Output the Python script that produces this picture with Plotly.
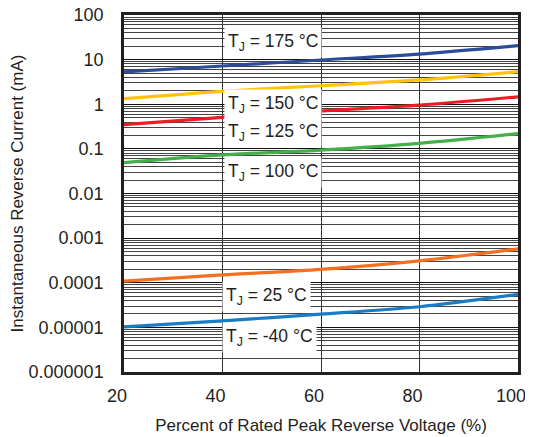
import math
import plotly.graph_objects as go

x_pct = [20, 40, 60, 80, 100]

i_175 = [5.3, 7.2, 9.8, 13.3, 20.5]
i_150 = [1.33, 1.95, 2.6, 3.5, 5.4]
i_125 = [0.35, 0.51, 0.71, 0.96, 1.47]
i_100 = [0.049, 0.073, 0.094, 0.133, 0.22]
i_25 = [1.09e-4, 1.5e-4, 2.0e-4, 3.1e-4, 5.75e-4]
i_m40 = [1.03e-5, 1.4e-5, 1.98e-5, 2.9e-5, 5.5e-5]

series = [
    ("175", i_175, "#2B4C9B"),
    ("150", i_150, "#FFC20E"),
    ("125", i_125, "#ED1C24"),
    ("100", i_100, "#44B04A"),
    ("25", i_25, "#F37021"),
    ("-40", i_m40, "#1A7CC4"),
]

label_texts = ["175", "150", "125", "100", "25", "-40"]
label_x = [50.3, 50.3, 50.3, 50.3, 49.0, 49.6]
label_y = [23.6, 0.99, 0.235, 0.030, 5.0e-5, 5.9e-6]

y_tickvals = [1e-6, 1e-5, 1e-4, 1e-3, 1e-2, 0.1, 1, 10, 100]
y_ticktext = ["0.000001", "0.00001", "0.0001", "0.001", "0.01", "0.1", "1", "10", "100"]
x_tickvals = [20, 40, 60, 80, 100]

txt = "#231f20"
font_family = "Liberation Sans, Arial, sans-serif"
fs_tick = 18
fs_title = 17
fs_label = 17.5

# the page body has an 8px margin: shrink the figure so it ends at the window edge
body_off = 8

fig = go.Figure()
for name, vals, color in series:
    fig.add_trace(go.Scatter(
        x=x_pct, y=vals, mode="lines", name=name,
        line=dict(color=color, width=3.2, shape="spline", smoothing=0.8),
        showlegend=False,
    ))

for t, lx, ly in zip(label_texts, label_x, label_y):
    fig.add_annotation(
        x=lx, y=math.log10(ly), yref="y", xref="x",
        text="T<sub>J</sub> = " + t + " °C",
        showarrow=False, bgcolor="white",
        font=dict(size=fs_label, color=txt, family=font_family),
        borderpad=3,
    )

fig.update_layout(
    width=533 - body_off, height=437 - body_off,
    margin=dict(l=124 - body_off, r=15, t=15 - body_off, b=65, autoexpand=False),
    paper_bgcolor="white", plot_bgcolor="white",
    font=dict(family=font_family, size=fs_tick, color=txt),
    xaxis=dict(
        range=[20, 100], tickvals=x_tickvals,
        showgrid=True, gridcolor="#333", gridwidth=1,
        showline=True, linecolor="#231f20", linewidth=2.5, mirror=True,
        ticks="", ticklabelstandoff=6, ticklabelshift=-7,
        ticklabeloverflow="allow",
        automargin=False,
        title=dict(text="Percent of Rated Peak Reverse Voltage (%)", standoff=14,
                   font=dict(size=fs_title, color=txt)),
        zeroline=False,
    ),
    yaxis=dict(
        type="log", range=[-6, 2],
        tickvals=y_tickvals, ticktext=y_ticktext,
        showgrid=True, gridcolor="#111", gridwidth=1.2,
        minor=dict(dtick="D1", showgrid=True, gridcolor="#444", gridwidth=0.9, ticks=""),
        showline=True, linecolor="#231f20", linewidth=2.5, mirror=True,
        ticks="", ticklabelstandoff=14, automargin=False,
        ticklabeloverflow="allow",
        title=dict(text="Instantaneous Reverse Current (mA)", standoff=6,
                   font=dict(size=fs_title, color=txt)),
        zeroline=False,
    ),
)

fig.write_html("out.html")
